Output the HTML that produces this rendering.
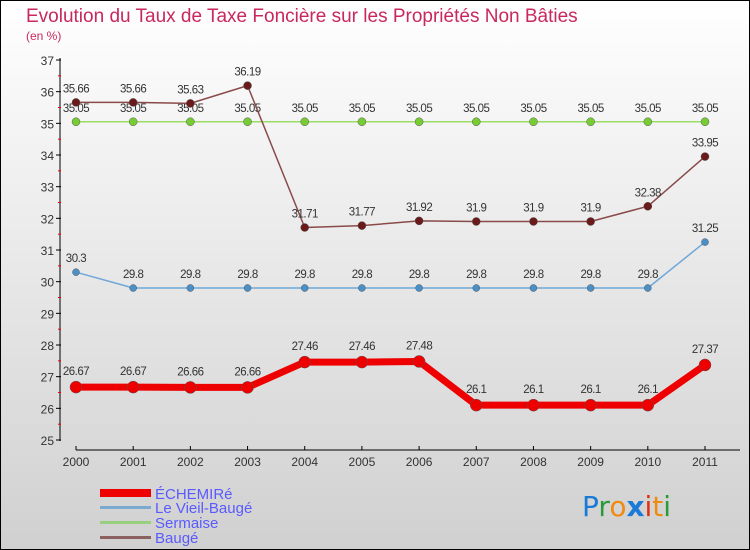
<!DOCTYPE html>
<html><head><meta charset="utf-8"><style>
body{margin:0}
svg{display:block;font-family:"Liberation Sans",sans-serif}
</style></head><body>
<svg id="c" width="750" height="550">
<defs><linearGradient id="bg" x1="0" y1="0" x2="0" y2="1"><stop offset="0" stop-color="#ffffff"/><stop offset="1" stop-color="#d0d0d0"/></linearGradient></defs>
<rect x="0.5" y="0.5" width="749" height="549" fill="url(#bg)" stroke="#000"/>
<text x="26" y="22" font-size="19" fill="#c8285c">Evolution du Taux de Taxe Foncière sur les Propriétés Non Bâties</text>
<text x="26" y="40" font-size="12" fill="#c8285c">(en %)</text>
<g id="axes"></g><g id="series"></g>
<g>
<rect x="100" y="489" width="51" height="8" fill="#e00"/>
<text x="155" y="499" font-size="15" fill="#5a5aff">ÉCHEMIRé</text>
<rect x="100" y="506" width="51" height="3" fill="#7aaad0"/>
<text x="155" y="513" font-size="15" fill="#5a5aff">Le Vieil-Baugé</text>
<rect x="100" y="521" width="51" height="3" fill="#99d080"/>
<text x="155" y="528" font-size="15" fill="#5a5aff">Sermaise</text>
<rect x="100" y="536" width="51" height="3" fill="#8a6060"/>
<text x="155" y="543" font-size="15" fill="#5a5aff">Baugé</text>
</g>
<g font-size="28" font-family="DejaVu Sans,sans-serif">
<text x="582" y="516"><tspan fill="#1a7ad8">P</tspan><tspan fill="#2a9a3a">r</tspan><tspan fill="#f08a10">o</tspan><tspan fill="#1a7ad8" font-weight="bold">x</tspan><tspan fill="#e03010">i</tspan><tspan fill="#f08a10">t</tspan><tspan fill="#2a9a3a">i</tspan></text>
</g>
</svg>
<script>
const years=["2000","2001","2002","2003","2004","2005","2006","2007","2008","2009","2010","2011"];
const yTicks=[25,26,27,28,29,30,31,32,33,34,35,36,37];
const echemire=[26.67,26.67,26.66,26.66,27.46,27.46,27.48,26.1,26.1,26.1,26.1,27.37];
const vieilBauge=[30.3,29.8,29.8,29.8,29.8,29.8,29.8,29.8,29.8,29.8,29.8,31.25];
const sermaise=[35.05,35.05,35.05,35.05,35.05,35.05,35.05,35.05,35.05,35.05,35.05,35.05];
const bauge=[35.66,35.66,35.63,36.19,31.71,31.77,31.92,31.9,31.9,31.9,32.38,33.95];
const NS="http://www.w3.org/2000/svg";
const X=i=>76+i*(705-76)/11;
const Y=v=>440-(v-25)*(380/12);
function mk(t,a,p){const e=document.createElementNS(NS,t);for(const k in a)e.setAttribute(k,a[k]);p.appendChild(e);return e;}
const ax=document.getElementById('axes');
let l=mk('line',{x1:60,y1:58,x2:60,y2:441,stroke:'#000'},ax);


l=mk('line',{x1:76,y1:450,x2:740,y2:450,stroke:'#000'},ax);


yTicks.forEach(v=>{
 mk('line',{x1:56,y1:Y(v),x2:61,y2:Y(v),stroke:'#000'},ax);
 if(v<37)mk('line',{x1:58,y1:Y(v+0.5),x2:61,y2:Y(v+0.5),stroke:'#e00'},ax);
 const t=mk('text',{x:54,y:Y(v)+5,'text-anchor':'end','font-size':12,fill:'#333'},ax);t.textContent=v;
 
 
});
years.forEach((y,i)=>{
 mk('line',{x1:X(i),y1:446,x2:X(i),y2:450,stroke:'#000'},ax);
 const t=mk('text',{x:X(i),y:466,'text-anchor':'middle','font-size':12,fill:'#333'},ax);t.textContent=y;
 
 
});
const sg=document.getElementById('series');
function series(name,data,color,dot,w,r,off){
 const g=mk('g',{},sg);
 
 
 const p=mk('polyline',{points:data.map((v,i)=>X(i)+','+Y(v)).join(' '),fill:'none',stroke:color,'stroke-width':w,'stroke-linejoin':'round'},g);
 data.forEach((v,i)=>{
  const c=mk('circle',{cx:X(i),cy:Y(v),r:r,fill:dot,stroke:'#555','stroke-width':0.5},g);
  
  
  const t=mk('text',{x:X(i),y:Y(v)-off,'text-anchor':'middle','font-size':11.5,fill:'#333','letter-spacing':'-0.5'},g);t.textContent=v;
  
  
 });
}
series('sermaise',sermaise,'#99dd66','#77cc33',1.5,4,10);
series('vieil-bauge',vieilBauge,'#6fa8d8','#4a90c8',1.5,3.5,10);
series('bauge',bauge,'#8a4a4a','#6a1a1a',1.5,4,10);
series('echemire',echemire,'#ee0000','#ee0000',7,6,12);
</script>
</body></html>
